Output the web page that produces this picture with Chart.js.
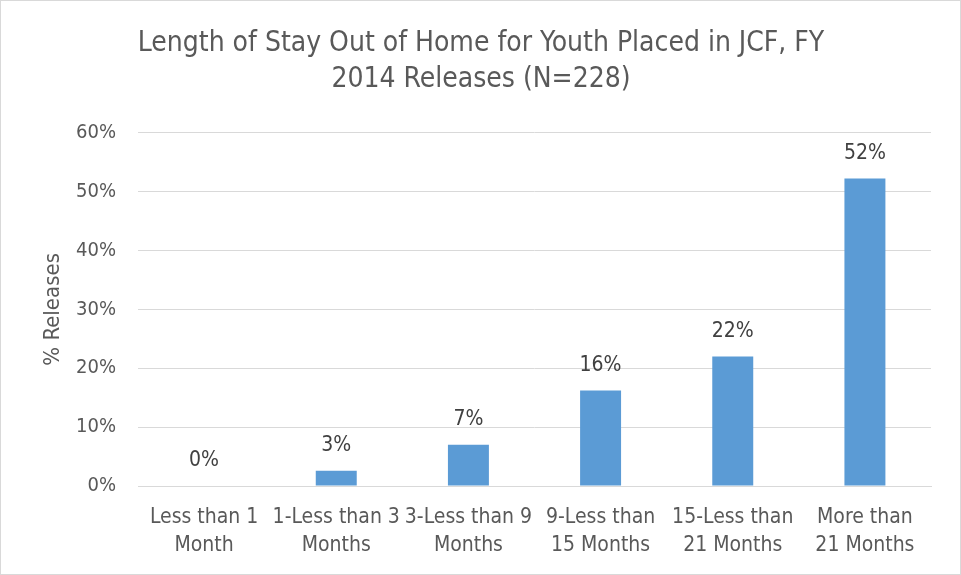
<!DOCTYPE html>
<html>
<head>
<meta charset="utf-8">
<script src="https://cdn.jsdelivr.net/npm/chart.js@4.4.1/dist/chart.umd.min.js"></script>
<style>
    html, body { margin: 0; padding: 0; background: #fff; }
    #wrap { width: 961px; height: 575px; position: relative; box-sizing: border-box; border: 1px solid #d9d9d9; }
</style>
</head>
<body>
<div id="wrap"><canvas id="chart"></canvas></div>
<script>
// Chart data
const categories = [
    ['Less than 1', 'Month'],
    ['1-Less than 3', 'Months'],
    ['3-Less than 9', 'Months'],
    ['9-Less than', '15 Months'],
    ['15-Less than', '21 Months'],
    ['More than', '21 Months']
];
const releasePct = [0, 2.6, 7.0, 16.2, 22.0, 52.2];
const yTicks = [0, 10, 20, 30, 40, 50, 60];

const fontFamily = '"Liberation Sans Narrow", "DejaVu Sans Condensed", sans-serif';
const textColor = '#595959';

// Draw the value labels above each bar
const barLabels = {
    id: 'barLabels',
    afterDatasetsDraw(chart) {
        const ctx = chart.ctx;
        const meta = chart.getDatasetMeta(0);
        ctx.save();
        ctx.font = '21px ' + fontFamily;
        ctx.fillStyle = '#404040';
        ctx.textAlign = 'center';
        ctx.textBaseline = 'middle';
        meta.data.forEach((bar, i) => {
            ctx.fillText(Math.round(releasePct[i]) + '%', bar.x, bar.y - 25);
        });
        ctx.restore();
    }
};

const ctx = document.getElementById('chart').getContext('2d');
new Chart(ctx, {
    type: 'bar',
    data: {
        labels: categories,
        datasets: [{
            data: releasePct,
            backgroundColor: '#5B9BD5',
            borderWidth: 0,
            barPercentage: 0.31,
            categoryPercentage: 1
        }]
    },
    options: {
        responsive: true,
        maintainAspectRatio: false,
        animation: false,
        layout: { padding: { left: 30, right: 29, top: 10, bottom: 0 } },
        plugins: {
            legend: { display: false },
            tooltip: { enabled: false },
            title: {
                display: true,
                text: ['Length of Stay Out of Home for Youth Placed in JCF, FY', '2014 Releases (N=228)'],
                color: textColor,
                font: { family: fontFamily, size: 28, weight: 'normal', lineHeight: 1.28 },
                padding: { top: 15, bottom: 35 }
            }
        },
        scales: {
            x: {
                grid: { display: false, drawTicks: false },
                border: { display: true, color: '#d9d9d9', width: 1 },
                ticks: {
                    color: textColor,
                    font: { family: fontFamily, size: 21, lineHeight: 1.33 },
                    padding: 18,
                    maxRotation: 0,
                    autoSkip: false
                },
                afterFit: s => { s.height = 88; }
            },
            y: {
                min: 0,
                max: 60,
                afterBuildTicks: s => { s.ticks = yTicks.map(v => ({ value: v })); },
                grid: { color: '#d9d9d9', drawTicks: false },
                border: { display: false },
                ticks: {
                    color: textColor,
                    font: { family: fontFamily, size: 20 },
                    padding: 22,
                    callback: v => v + '%'
                },
                title: {
                    display: true,
                    text: '% Releases',
                    color: textColor,
                    font: { family: fontFamily, size: 22 },
                    padding: { top: 9, bottom: 0 }
                },
                afterFit: s => { s.width = 107; }
            }
        }
    },
    plugins: [barLabels]
});
</script>
</body>
</html>
